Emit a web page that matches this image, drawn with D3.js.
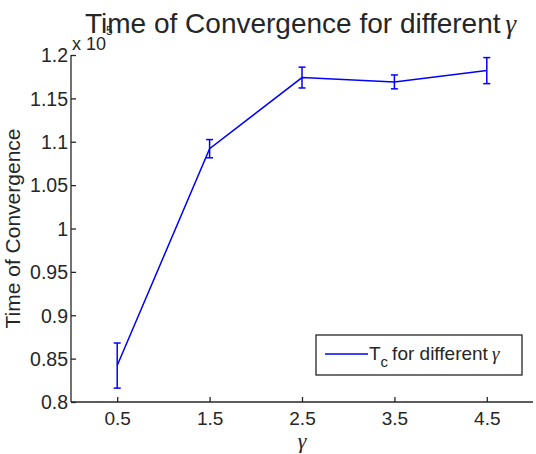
<!DOCTYPE html>
<html>
<head>
<meta charset="utf-8">
<script src="https://cdn.jsdelivr.net/npm/d3@7"></script>
<style>
  body { margin: 0; background: #fff; }
  text { font-family: "Liberation Sans", Arial, sans-serif; fill: #262626; }
  .greek { font-family: "Liberation Serif", "DejaVu Serif", serif; font-style: italic; }
</style>
</head>
<body>
<svg id="chart" width="536" height="454"></svg>
<script>
"use strict";

// values (y in units of 1e5)
var gammas = [0.5, 1.5, 2.5, 3.5, 4.5];
var convTimes = [0.842, 1.092, 1.174, 1.169, 1.182];
var convErrors = [0.026, 0.0105, 0.012, 0.008, 0.015];
var xTicks = [0.5, 1.5, 2.5, 3.5, 4.5];
var yTicks = [0.8, 0.85, 0.9, 0.95, 1, 1.05, 1.1, 1.15, 1.2];

var frame = { l: 71, r: 533, t: 55, b: 402 };
var svg = d3.select("#chart");

var x = d3.scaleLinear().domain([0, 5]).range([frame.l, frame.r]);
var y = d3.scaleLinear().domain([0.8, 1.2]).range([frame.b, frame.t]);

// axes, MATLAB style ticks pointing inward
var xAxis = svg.append("g")
  .attr("transform", "translate(0," + frame.b + ")")
  .call(d3.axisTop(x).tickValues(xTicks).tickSize(5));
xAxis.selectAll("text").remove();
xAxis.selectAll(".tick").append("text")
  .attr("y", 23)
  .attr("text-anchor", "middle")
  .style("font-size", "19px")
  .text(function(d) { return d; });

var yAxis = svg.append("g")
  .attr("transform", "translate(" + frame.l + ",0)")
  .call(d3.axisRight(y).tickValues(yTicks).tickSize(5));
yAxis.selectAll("text").remove();
yAxis.selectAll(".tick").append("text")
  .attr("x", -3)
  .attr("dy", "0.35em")
  .attr("text-anchor", "end")
  .style("font-size", "19.5px")
  .text(function(d) { return d3.format("")(d); });

svg.selectAll(".domain").attr("stroke", "#262626").attr("stroke-width", 1.3);
svg.selectAll(".tick line").attr("stroke", "#262626").attr("stroke-width", 1.3);
xAxis.select(".domain").attr("d", "M" + frame.l + ",0H" + frame.r);
yAxis.select(".domain").attr("d", "M0," + frame.t + "V" + frame.b);

// error bars
var bars = svg.append("g").attr("stroke", "#0000ff").attr("stroke-width", 1.5);
gammas.forEach(function(g, i) {
  var lo = y(convTimes[i] - convErrors[i]), hi = y(convTimes[i] + convErrors[i]);
  bars.append("line").attr("x1", x(g)).attr("x2", x(g)).attr("y1", lo).attr("y2", hi);
  bars.append("line").attr("x1", x(g) - 3.5).attr("x2", x(g) + 3.5).attr("y1", lo).attr("y2", lo);
  bars.append("line").attr("x1", x(g) - 3.5).attr("x2", x(g) + 3.5).attr("y1", hi).attr("y2", hi);
});

var line = d3.line()
  .x(function(d, i) { return x(gammas[i]); })
  .y(function(d) { return y(d); });
svg.append("path")
  .datum(convTimes)
  .attr("d", line)
  .attr("fill", "none")
  .attr("stroke", "#0000ff")
  .attr("stroke-width", 1.5);

// exponent label
var expo = svg.append("text").attr("x", 72).attr("y", 50).style("font-size", "18px");
expo.append("tspan").text("x 10");
expo.append("tspan").attr("dy", -15).style("font-size", "12px").text("5");

// title
var title = svg.append("text")
  .attr("x", 85)
  .attr("y", 33)
  .style("font-size", "28px");
title.append("tspan").text("Time of Convergence for different");
title.append("tspan").attr("class", "greek").attr("dx", 5).style("font-size", "27px").text("\u03b3");

// axis labels
svg.append("text")
  .attr("class", "greek")
  .attr("x", (frame.l + frame.r) / 2)
  .attr("y", 448)
  .attr("text-anchor", "middle")
  .style("font-size", "22px")
  .text("\u03b3");

svg.append("text")
  .attr("transform", "translate(20," + ((frame.t + frame.b) / 2) + ") rotate(-90)")
  .attr("text-anchor", "middle")
  .style("font-size", "21px")
  .text("Time of Convergence");

// legend
var legend = svg.append("g").attr("transform", "translate(316,335)");
legend.append("rect")
  .attr("width", 206).attr("height", 40)
  .attr("fill", "#fff").attr("stroke", "#262626").attr("stroke-width", 1.3);
legend.append("line")
  .attr("x1", 9).attr("x2", 52).attr("y1", 19).attr("y2", 19)
  .attr("stroke", "#0000ff").attr("stroke-width", 1.5);
var lt = legend.append("text").attr("x", 53).attr("y", 25).style("font-size", "19px");
lt.append("tspan").text("T");
lt.append("tspan").attr("dy", 7).style("font-size", "15px").text("c");
lt.append("tspan").attr("dy", -7).attr("dx", 4).text("for different");
lt.append("tspan").attr("class", "greek").attr("dx", 4).style("font-size", "19px").text("\u03b3");
</script>
</body>
</html>
